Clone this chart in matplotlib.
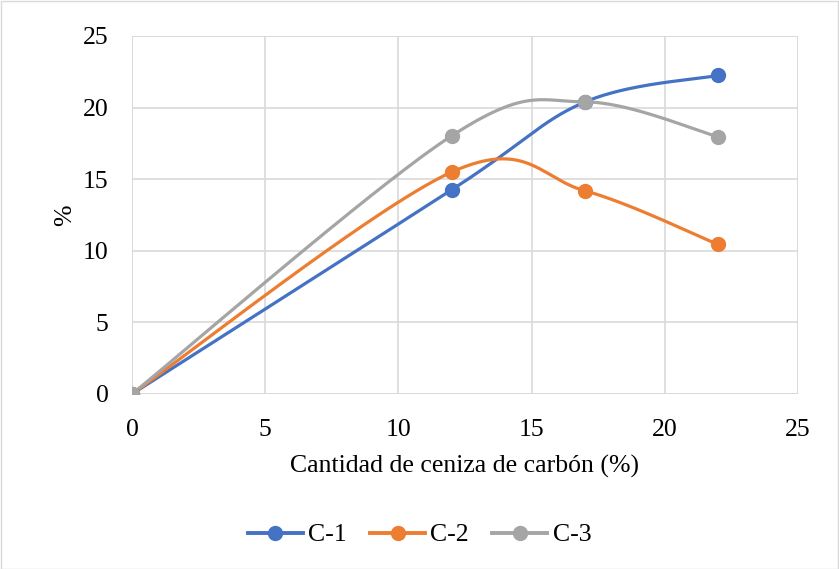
import numpy as np
import matplotlib
matplotlib.use("Agg")
import matplotlib.pyplot as plt
from matplotlib.lines import Line2D
from matplotlib.patches import Rectangle

x_vals = [0, 12, 17, 22]
c1 = [0, 14.26, 20.39, 22.25]
c2 = [0, 15.5, 14.19, 10.44]
c3 = [0, 18.03, 20.4, 17.96]
series_names = ["C-1", "C-2", "C-3"]
colors = ["#4472C4", "#ED7D31", "#A5A5A5"]
x_ticks = [0, 5, 10, 15, 20, 25]
y_ticks = [0, 5, 10, 15, 20, 25]


def smooth(xs, ys, n=60):
    P = np.column_stack([xs, ys]).astype(float)
    pts = np.vstack([P[0], P, P[-1]])
    out = []
    for i in range(1, len(pts) - 2):
        p0, p1, p2, p3 = pts[i - 1], pts[i], pts[i + 1], pts[i + 2]
        c1_ = p1 + (p2 - p0) / 6.0
        c2_ = p2 - (p3 - p1) / 6.0
        t = np.linspace(0, 1, n)[:, None]
        b = ((1 - t) ** 3) * p1 + 3 * ((1 - t) ** 2) * t * c1_ + 3 * (1 - t) * t ** 2 * c2_ + t ** 3 * p2
        out.append(b if i == 1 else b[1:])
    b = np.vstack(out)
    return b[:, 0], b[:, 1]


FS = 18.5
plt.rcParams['font.family'] = ['Liberation Serif', 'DejaVu Serif']
fig = plt.figure(figsize=(8.39, 5.69), dpi=100)
ax = fig.add_axes([132 / 839, 1 - 394 / 569, (798 - 132) / 839, (394 - 36) / 569])

for ys, name, col in zip([c1, c2, c3], series_names, colors):
    sx, sy = smooth(x_vals, ys)
    ax.plot(sx, sy, color=col, lw=2.3, solid_capstyle='round', zorder=3)
    ax.plot(x_vals, ys, 'o', color=col, ms=10, zorder=4)

ax.set_xlim(0, 25)
ax.set_ylim(0, 25)
ax.set_xticks(x_ticks)
ax.set_yticks(y_ticks)
ax.grid(True, color='#D9D9D9', lw=1.2, zorder=0)
for s in ax.spines.values():
    s.set_visible(False)
for v in (0, 25):
    ax.axhline(v, color='#D9D9D9', lw=1.2, zorder=1)
    ax.axvline(v, color='#D9D9D9', lw=1.2, zorder=1)
ax.tick_params(axis='y', length=0, labelsize=FS, pad=17)
ax.tick_params(axis='x', length=0, labelsize=FS, pad=18)
ax.set_xlabel("Cantidad de ceniza de carbón (%)", fontsize=FS, labelpad=10)
ax.set_ylabel("%", fontsize=FS, labelpad=5)

handles = [Line2D([0], [0], color=c, lw=2.8, marker='o', ms=10) for c in colors]
fig.legend(handles, series_names, loc='center', bbox_to_anchor=(0.5, 1 - 535 / 569),
           ncol=3, frameon=False, fontsize=FS, handlelength=2.15, columnspacing=0.9,
           handletextpad=0.2)

fig.patches.append(Rectangle((0.5 / 839, 0.5 / 569), 1 - 1.5 / 839, 1 - 1.5 / 569,
                             transform=fig.transFigure, fill=False, ec='#D9D9D9', lw=1))
fig.savefig("out.png", dpi=100)
